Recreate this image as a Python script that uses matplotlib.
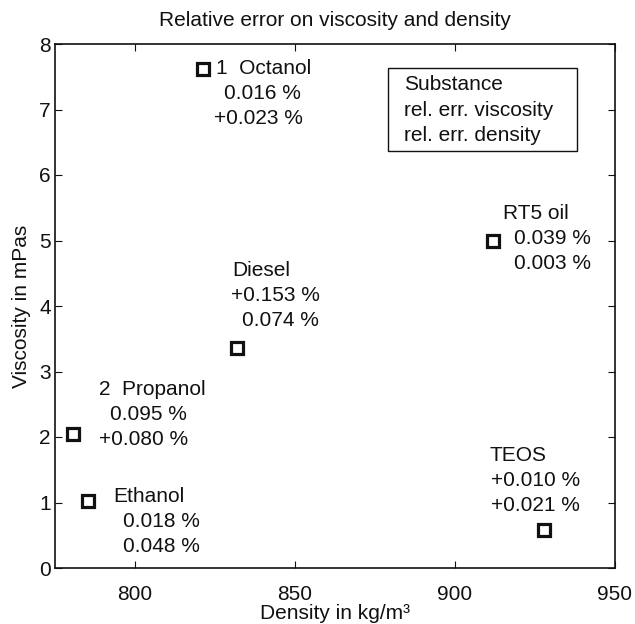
import matplotlib
matplotlib.use("Agg")
import matplotlib.pyplot as plt
from matplotlib.patches import Rectangle

plt.rcParams['font.family'] = ['Liberation Sans', 'DejaVu Sans']

# data
substances = ['1  Octanol', '2  Propanol', 'Ethanol', 'Diesel', 'RT5 oil', 'TEOS']
density = [821.2, 780.6, 785.3, 831.9, 911.9, 927.8]      # kg/m^3
viscosity = [7.62, 2.05, 1.02, 3.36, 5.0, 0.58]          # mPas
err_visc = ['0.016 %', '0.095 %', '0.018 %', '+0.153 %', '0.039 %', '+0.010 %']
err_dens = ['+0.023 %', '+0.080 %', '0.048 %', '0.074 %', '0.003 %', '+0.021 %']

x_ticks = [800, 850, 900, 950]
y_ticks = [0, 1, 2, 3, 4, 5, 6, 7, 8]

# label placement relative to each marker, pixels: (dx line1, dx line2, dx line3, dy line1)
label_offsets = [(13, 21, 11, 0), (26, 37, 26, 44), (25, 35, 35, 5),
                 (-5, -6, 5, 77), (10, 21, 21, 27), (-54, -53, -53, 75)]
LINE_STEP = 25
FS = 15

fig = plt.figure(figsize=(6.35, 6.24), dpi=100)
ax = fig.add_axes([55 / 635, 1 - 568 / 624, 560 / 635, 524 / 624])

ax.plot(density, viscosity, linestyle='none', marker='s', markersize=8,
        markerfacecolor='white', markeredgecolor='#111111', markeredgewidth=2.3, zorder=3)

for i, name in enumerate(substances):
    dx1, dx2, dx3, dy = label_offsets[i]
    lines = [name, err_visc[i], err_dens[i]]
    for k, (txt, dx) in enumerate(zip(lines, [dx1, dx2, dx3])):
        ax.annotate(txt, (density[i], viscosity[i]), xytext=(dx, dy - k * LINE_STEP),
                    textcoords='offset pixels', ha='left', va='center', fontsize=FS,
                    color='#111111')

# key box explaining the labels
ax.add_patch(Rectangle((0.5946, 0.796), 0.932 - 0.5946, 0.954 - 0.796, transform=ax.transAxes,
                       facecolor='white', edgecolor='#111111', linewidth=1.0, zorder=4))
for txt, yy in zip(['Substance', 'rel. err. viscosity', 'rel. err. density'], [0.922, 0.873, 0.826]):
    ax.text(0.623, yy, txt, transform=ax.transAxes, ha='left', va='center', fontsize=FS,
            color='#111111', zorder=5)

ax.set_xlim(775, 950)
ax.set_ylim(0, 8)
ax.set_xticks(x_ticks)
ax.set_yticks(y_ticks)
ax.tick_params(direction='in', length=5, width=0.8, labelsize=FS, top=True, right=True,
               colors='#111111')
ax.tick_params(axis='x', pad=12)
ax.tick_params(axis='y', pad=3)
for s in ax.spines.values():
    s.set_linewidth(1.2)
    s.set_color('#111111')

ax.set_title('Relative error on viscosity and density', fontsize=FS, pad=13, color='#111111')
ax.set_xlabel('Density in kg/m³', fontsize=FS, labelpad=0, color='#111111')
ax.set_ylabel('Viscosity in mPas', fontsize=FS, labelpad=6, color='#111111')

fig.savefig('out.png', dpi=100)
